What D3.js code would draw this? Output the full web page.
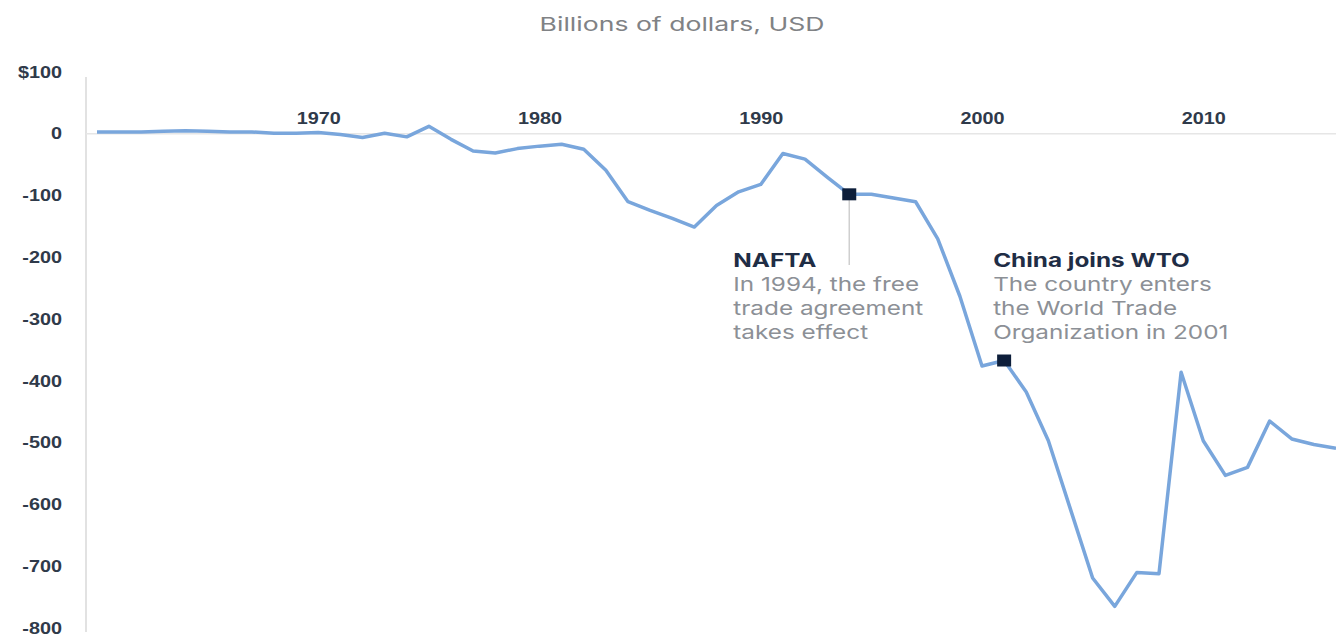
<!DOCTYPE html>
<html>
<head>
<meta charset="utf-8">
<script src="https://cdn.jsdelivr.net/npm/d3@7"></script>
<style>
  body { margin: 0; background: #fff; }
  svg { display: block; font-family: Inter, "Open Sans", sans-serif; }
</style>
</head>
<body>
<script>
// years and US trade balance, billions USD
const years = d3.range(1960, 2017);
const balance = [
  3, 3, 3, 4, 5, 4, 3, 3, 1, 1,
  2, -1, -6, 1, -5, 12, -9, -28, -31, -24,
  -20, -17, -25, -59, -110, -124, -137, -151, -116, -94,
  -82, -32, -41, -70, -98, -98, -104, -110, -170, -263,
  -376, -367, -418, -497, -608, -719, -765, -710, -712, -386,
  -497, -553, -540, -465, -494, -503, -509
];
const yTicks = [100, 0, -100, -200, -300, -400, -500, -600, -700, -800];
const xTicks = [1970, 1980, 1990, 2000, 2010];

const notes = [
  { year: 1994, title: "NAFTA", lines: ["In 1994, the free", "trade agreement", "takes effect"], dx: -116, stem: true },
  { year: 2001, title: "China joins WTO", lines: ["The country enters", "the World Trade", "Organization in 2001"], dx: -11, stem: false }
];

const W = 1336, H = 638;
const svg = d3.select("body").append("svg").attr("width", W).attr("height", H);

const x = d3.scaleLinear().domain([1960, 2016]).range([97, 1336]);
const y = d3.scaleLinear().domain([-800, 100]).range([628, 72]);

// the source picture is stretched sideways, so text gets a horizontal scale
const sSub = 1.4, sNote = 1.28, sTick = 1.24;

svg.append("text")
  .attr("transform", `translate(682,31) scale(${sSub},1)`)
  .attr("text-anchor", "middle")
  .attr("fill", "#808285")
  .attr("font-size", 19)
  .text("Billions of dollars, USD");

// y axis
const yAxis = svg.append("g").attr("transform", "translate(86,0)")
  .call(d3.axisLeft(y).tickValues(yTicks).tickSize(0).tickPadding(24)
    .tickFormat(d => d === 100 ? "$100" : String(d)));
yAxis.select(".domain").attr("stroke", "#e2e2e2").attr("stroke-width", 2)
  .attr("d", `M0,${y(92)}V${y(-800) + 4}`);
yAxis.selectAll("text").attr("fill", "#2f3a4a").attr("font-size", 16)
  .attr("font-weight", 600)
  .attr("x", -24 / sTick)
  .attr("transform", `scale(${sTick},1)`);

// zero line + x axis labels
const xAxis = svg.append("g").attr("transform", `translate(0,${y(0)})`)
  .call(d3.axisTop(x).tickValues(xTicks).tickSize(0).tickPadding(10).tickFormat(d3.format("d")));
xAxis.select(".domain").attr("stroke", "#e6e6e6").attr("stroke-width", 1.5)
  .attr("d", `M86,0H${W}`);
xAxis.selectAll("text").attr("fill", "#2f3a4a").attr("font-size", 16)
  .attr("font-weight", 600)
  .attr("transform", `scale(${sTick},1)`);

// stems
notes.filter(n => n.stem).forEach(n => {
  const i = years.indexOf(n.year);
  svg.append("line")
    .attr("x1", x(n.year)).attr("x2", x(n.year))
    .attr("y1", y(balance[i])).attr("y2", 265)
    .attr("stroke", "#cfcfcf").attr("stroke-width", 1.5);
});

const line = d3.line().x((d, i) => x(years[i])).y(d => y(d));
svg.append("path").datum(balance)
  .attr("fill", "none")
  .attr("stroke", "#79a6dc")
  .attr("stroke-width", 3.5)
  .attr("stroke-linejoin", "round")
  .attr("d", line);

notes.forEach(n => {
  const i = years.indexOf(n.year);
  const cx = x(n.year), cy = y(balance[i]);
  svg.append("rect")
    .attr("x", cx - 7).attr("y", cy - 6).attr("width", 14).attr("height", 12)
    .attr("fill", "#0d1e3a");
  const t = svg.append("text")
    .attr("transform", `translate(${cx + n.dx},267) scale(${sNote},1)`)
    .attr("font-size", 19);
  t.append("tspan").attr("font-weight", 700).attr("fill", "#1f2d45").text(n.title);
  n.lines.forEach(l => {
    t.append("tspan").attr("x", 0).attr("dy", 24)
      .attr("fill", "#8c9096").text(l);
  });
});
</script>
</body>
</html>
